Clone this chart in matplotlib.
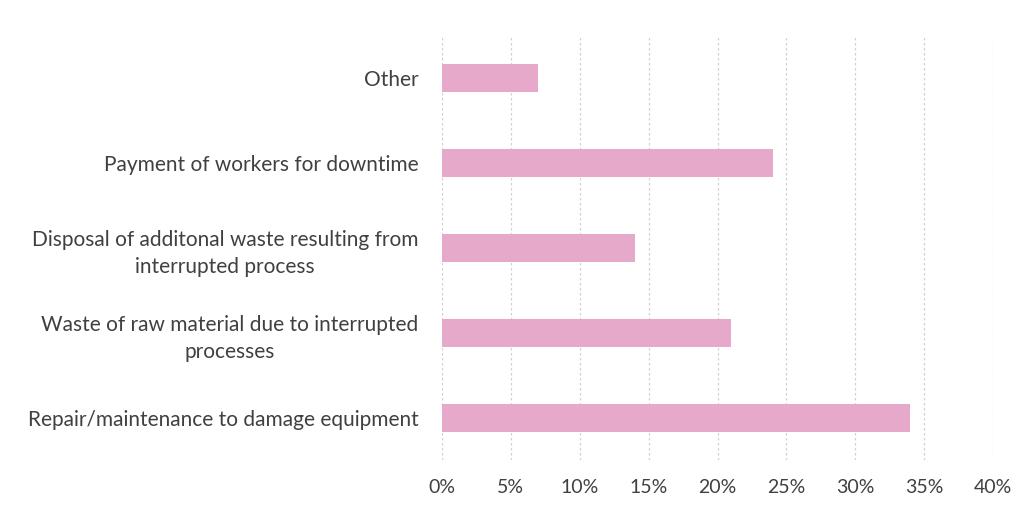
import matplotlib.pyplot as plt
from matplotlib.ticker import FuncFormatter

categories = [
    "Repair/maintenance to damage equipment",
    "Waste of raw material due to interrupted\nprocesses",
    "Disposal of additonal waste resulting from\ninterrupted process",
    "Payment of workers for downtime",
    "Other",
]
values = [34, 21, 14, 24, 7]
x_ticks = [0, 5, 10, 15, 20, 25, 30, 35, 40]

plt.rcParams['font.family'] = ['Lato', 'DejaVu Sans']

fig = plt.figure(figsize=(10.28, 5.08), dpi=100)
ax = fig.add_axes([442 / 1028, 1 - 460 / 508, (993 - 442) / 1028, (460 - 36) / 508])

ax.barh(range(len(categories)), values, height=0.33, color='#e6a9c9', zorder=3)

ax.set_xlim(0, 40)
ax.set_ylim(-0.5, len(categories) - 0.5)
ax.set_xticks(x_ticks)
ax.xaxis.set_major_formatter(FuncFormatter(lambda v, p: f"{v:.0f}%"))
ax.set_yticks(range(len(categories)))
ax.set_yticklabels(categories, ha='right', multialignment='center', linespacing=1.45)
ax.tick_params(axis='y', length=0, pad=17, labelsize=15, labelcolor='#404040')
ax.tick_params(axis='x', length=0, pad=14, labelsize=14, labelcolor='#404040')

ax.grid(axis='x', color='#d0d0d0', linestyle=(0, (2, 2)), linewidth=0.9, zorder=0)
for s in ax.spines.values():
    s.set_visible(False)

fig.savefig('out.png', dpi=100)
